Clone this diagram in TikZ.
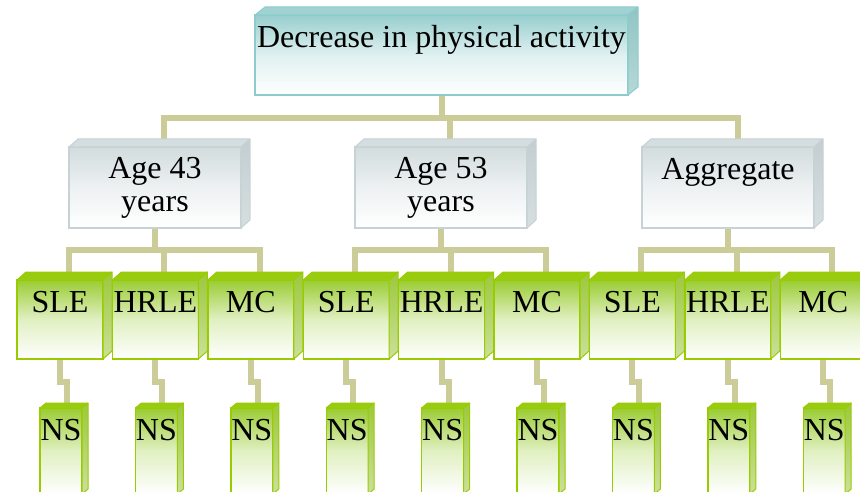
\documentclass[tikz,border=0pt]{standalone}
\usepackage{fontspec}
\setmainfont{Liberation Serif}
\usetikzlibrary{calc}

% palette
\definecolor{linkc}{RGB}{204,204,153}
\definecolor{tealedge}{RGB}{140,204,204}
\definecolor{tealfill}{RGB}{152,206,206}
\definecolor{tealroof}{RGB}{160,210,210}
\definecolor{tealwallA}{RGB}{146,196,196}
\definecolor{tealwallB}{RGB}{182,216,216}
\definecolor{greyedge}{RGB}{198,210,212}
\definecolor{greyfill}{RGB}{210,220,222}
\definecolor{greyroof}{RGB}{212,221,223}
\definecolor{greywallA}{RGB}{196,206,208}
\definecolor{greywallB}{RGB}{214,222,224}
\definecolor{greenedge}{RGB}{153,204,0}
\definecolor{greenfill}{RGB}{154,204,51}
\definecolor{greenroof}{RGB}{153,204,17}
\definecolor{greenwallA}{RGB}{156,200,60}
\definecolor{greenwallB}{RGB}{204,224,156}

\pgfdeclarelayer{background}
\pgfsetlayers{background,main}

\tikzset{
  conn/.style={draw=linkc, line width=6pt},
  boxbase/.style={rectangle, inner sep=0pt, outer sep=0pt, align=center,
    font=\fontsize{32}{33}\selectfont, text=black},
  % teal root block
  tealfront/.style={boxbase, draw=tealedge, line width=1.3pt,
    minimum width=373pt, minimum height=80pt,
    top color=tealfill, bottom color=white, middle color=tealfill!30!white,
    text height=22pt, text depth=36pt},
  tealroof/.style={fill=tealroof, draw=tealedge, line width=1pt, line join=round},
  tealwall/.style={top color=tealwallA, bottom color=tealwallB, draw=tealedge, line width=1pt, line join=round},
  % grey group blocks
  greyfront/.style={boxbase, draw=greyedge, line width=1.3pt,
    minimum width=172pt, minimum height=81pt,
    top color=greyfill, bottom color=white, middle color=greyfill!40!white},
  greyroof/.style={fill=greyroof, draw=greyedge, line width=1pt, line join=round},
  greywall/.style={top color=greywallA, bottom color=greywallB, draw=greyedge, line width=1pt, line join=round},
  % green measure blocks
  greenfront/.style={boxbase, draw=greenedge, line width=1.4pt,
    minimum width=86pt, minimum height=79pt,
    top color=greenfill, bottom color=white, middle color=greenfill!30!white,
    text height=22pt, text depth=37pt},
  greenroof/.style={fill=greenroof, draw=greenedge, line width=1pt, line join=round},
  greenwall/.style={top color=greenwallA, bottom color=greenwallB, draw=greenedge, line width=1pt, line join=round},
  % narrow result blocks
  nsfront/.style={greenfront, minimum width=42pt, minimum height=86pt,
    text height=22pt, text depth=44pt},
}

% one block drawn as a front face with a roof and a right wall
% #1 extra options, #2 name, #3 centre, #4 palette, #5 depth vector, #6 text
\newcommand\cubeblock[6][]{%
  \node[#4front,#1] (#2) at (#3) {#6};
  \path[#4roof] (#2.north west) -- ++(#5) -- ($(#2.north east)+(#5)$) -- (#2.north east) -- cycle;
  \path[#4wall] (#2.north east) -- ++(#5) -- ($(#2.south east)+(#5)$) -- (#2.south east) -- cycle;
}

\begin{document}
\begin{tikzpicture}[x=1pt, y=1pt]
\useasboundingbox (0,0) rectangle (860,-492);
\clip (0,0) rectangle (860,-492);

% root
\cubeblock{root}{441.5,-55}{teal}{10,8}{Decrease in physical activity}

% groups
\cubeblock{a43}{155,-187.5}{grey}{9,8}{Age 43\\years}
\cubeblock{a53}{441,-187.5}{grey}{9,8}{Age 53\\years}
\cubeblock[text height=22pt, text depth=37pt]{agg}{728,-187.5}{grey}{9,8}{Aggregate}

% measures and results
\foreach \lab [count=\i from 0] in {SLE,HRLE,MC,SLE,HRLE,MC,SLE,HRLE,MC}{
  \pgfmathsetmacro\cx{60+95.4*\i}
  \cubeblock{m\i}{\cx,-319.5}{green}{9,8}{\lab}
  \pgfmathsetmacro\nx{61+95.4*\i}
  \cubeblock[nsfront]{r\i}{\nx,-451}{green}{6,5}{NS}
}

% connectors behind the blocks
\begin{pgfonlayer}{background}
  % root to groups
  \coordinate (bus0) at ($(root.south)+(0,-23)$);
  \coordinate (d43) at ($(a43.north)+(9,8)$);
  \coordinate (d53) at ($(a53.north)+(9,8)$);
  \coordinate (dagg) at ($(agg.north)+(10,8)$);
  \draw[conn] (root.south) -- (bus0);
  \draw[conn] (d43) |- (bus0) -| (dagg);
  \draw[conn] (d53) -- (d53 |- bus0);

  % groups to measures
  \foreach \g/\a/\b/\c in {a43/0/1/2, a53/3/4/5, agg/6/7/8}{
    \coordinate (gb) at ($(\g.south)+(0,-21.5)$);
    \coordinate (ta) at ($(m\a.north)+(9,8)$);
    \coordinate (tb) at ($(m\b.north)+(9,8)$);
    \coordinate (tc) at ($(m\c.north)+(9,8)$);
    \draw[conn] (\g.south) -- (gb);
    \draw[conn] (ta) |- (gb) -| (tc);
    \draw[conn] (tb) -- (tb |- gb);
  }

  % measures to results
  \foreach \i in {0,...,8}{
    \draw[conn] (m\i.south) -- ++(0,-22.5) -| ($(r\i.north)+(6,5)$);
  }
\end{pgfonlayer}
\end{tikzpicture}
\end{document}
